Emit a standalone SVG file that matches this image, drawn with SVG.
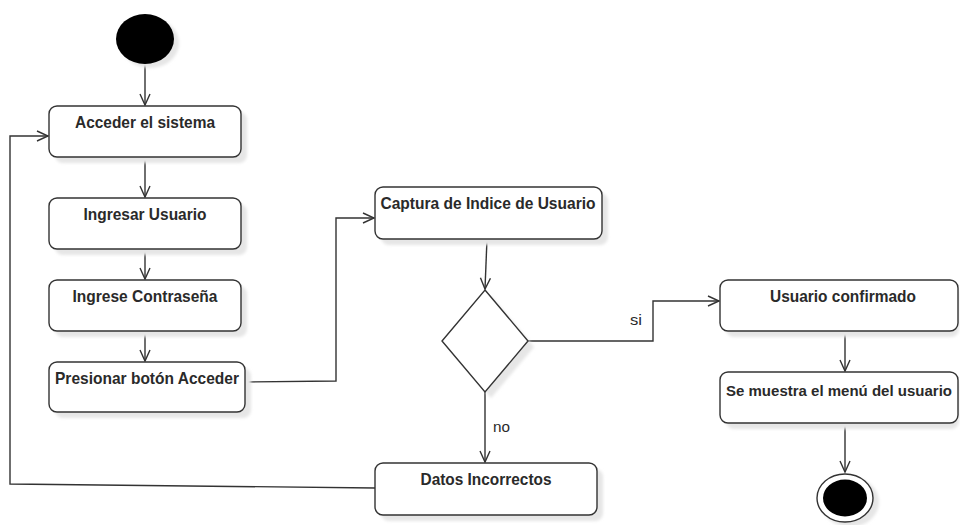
<svg xmlns="http://www.w3.org/2000/svg" width="960" height="525" viewBox="0 0 960 525">
  <defs>
    <marker id="open-arrow" markerWidth="14" markerHeight="14" refX="12" refY="6" orient="auto" markerUnits="userSpaceOnUse">
      <path d="M1,1 L12,6 L1,11" fill="none" stroke="#333" stroke-width="1.4"/>
    </marker>
    <filter id="soft" x="-10%" y="-10%" width="130%" height="140%">
      <feGaussianBlur stdDeviation="1.5"/>
    </filter>
  </defs>
  <style>
    .shadow { fill: #e6e6e6; filter: url(#soft); }
    .box { fill: #ffffff; stroke: #333333; stroke-width: 1.4; }
    .label { font-family: "Liberation Sans", Arial, sans-serif; font-size: 17px; font-weight: bold; fill: #2a2a2a; text-anchor: middle; }
    .guard { font-family: "Liberation Sans", Arial, sans-serif; font-size: 15px; fill: #2a2a2a; }
    .edge { fill: none; stroke: #333333; stroke-width: 1.4; marker-end: url(#open-arrow); }
  </style>
  <rect width="960" height="525" fill="#ffffff"/>

  <!-- connectors -->
  <g id="connectors">
    <path class="edge" d="M145,64 L145,105"/>
    <path class="edge" d="M145,157 L145,197"/>
    <path class="edge" d="M145,249 L145,279"/>
    <path class="edge" d="M145,331 L145,361"/>
    <path class="edge" d="M245,382 L336,381 L336,218 L374,218"/>
    <path class="edge" d="M487,239 L485,289"/>
    <path class="edge" d="M528,341 L653,341 L653,301 L719,301"/>
    <path class="edge" d="M485,392 L485,462"/>
    <path class="edge" d="M375,488 L10,484 L10,136 L48,136"/>
    <path class="edge" d="M845,331 L845,371"/>
    <path class="edge" d="M845,423 L845,472"/>
    <text class="guard" x="630" y="325" textLength="12" lengthAdjust="spacingAndGlyphs">si</text>
    <text class="guard" x="493" y="432" textLength="17" lengthAdjust="spacingAndGlyphs">no</text>
  </g>

  <!-- initial node -->
  <g id="start">
    <ellipse cx="150" cy="43" rx="29" ry="25" class="shadow"/>
    <ellipse cx="145" cy="39" rx="29" ry="25" fill="#000000"/>
  </g>

  <g id="acceder-sistema">
    <rect x="55" y="112" width="192" height="51" rx="8" class="shadow"/>
    <rect x="49" y="106" width="192" height="51" rx="8" class="box"/>
    <text class="label" x="145" y="128" textLength="140" lengthAdjust="spacingAndGlyphs">Acceder el sistema</text>
  </g>

  <g id="ingresar-usuario">
    <rect x="55" y="204" width="192" height="51" rx="8" class="shadow"/>
    <rect x="49" y="198" width="192" height="51" rx="8" class="box"/>
    <text class="label" x="145" y="220" textLength="123" lengthAdjust="spacingAndGlyphs">Ingresar Usuario</text>
  </g>

  <g id="ingrese-contrasena">
    <rect x="55" y="286" width="192" height="51" rx="8" class="shadow"/>
    <rect x="49" y="280" width="192" height="51" rx="8" class="box"/>
    <text class="label" x="145" y="302" textLength="145" lengthAdjust="spacingAndGlyphs">Ingrese Contraseña</text>
  </g>

  <g id="presionar-boton">
    <rect x="55" y="368" width="196" height="50" rx="8" class="shadow"/>
    <rect x="49" y="362" width="196" height="50" rx="8" class="box"/>
    <text class="label" x="147" y="384" textLength="184" lengthAdjust="spacingAndGlyphs">Presionar botón Acceder</text>
  </g>

  <g id="captura-indice">
    <rect x="381" y="193" width="227" height="52" rx="8" class="shadow"/>
    <rect x="375" y="187" width="227" height="52" rx="8" class="box"/>
    <text class="label" x="488" y="209" textLength="215" lengthAdjust="spacingAndGlyphs">Captura de Indice de Usuario</text>
  </g>

  <!-- decision -->
  <g id="decision">
    <polygon points="491,296 534,347 491,398 448,347" class="shadow"/>
    <polygon points="485,290 528,341 485,392 442,341" class="box"/>
  </g>

  <g id="datos-incorrectos">
    <rect x="381" y="469" width="222" height="52" rx="8" class="shadow"/>
    <rect x="375" y="463" width="222" height="52" rx="8" class="box"/>
    <text class="label" x="486" y="485" textLength="131" lengthAdjust="spacingAndGlyphs">Datos Incorrectos</text>
  </g>

  <g id="usuario-confirmado">
    <rect x="726" y="286" width="233" height="51" rx="8" class="shadow"/>
    <rect x="720" y="280" width="238" height="51" rx="8" class="box"/>
    <text class="label" x="843" y="302" textLength="146" lengthAdjust="spacingAndGlyphs">Usuario confirmado</text>
  </g>

  <g id="menu-usuario">
    <rect x="726" y="378" width="233" height="51" rx="8" class="shadow"/>
    <rect x="720" y="372" width="238" height="51" rx="8" class="box"/>
    <text class="label" x="839" y="396" style="font-size:15.5px" textLength="226" lengthAdjust="spacingAndGlyphs">Se muestra el menú del usuario</text>
  </g>

  <!-- final node -->
  <g id="end">
    <ellipse cx="850" cy="502" rx="29" ry="25" class="shadow"/>
    <ellipse cx="845" cy="498" rx="28" ry="24" fill="#ffffff" stroke="#333333" stroke-width="1.4"/>
    <ellipse cx="845" cy="498" rx="22" ry="18.5" fill="#000000"/>
  </g>
</svg>
